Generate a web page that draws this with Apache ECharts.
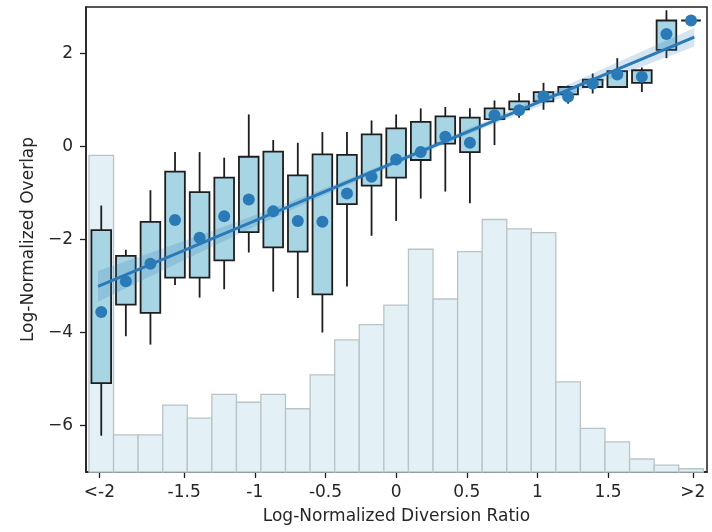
<!DOCTYPE html>
<html>
<head>
<meta charset="utf-8">
<script src="https://cdn.jsdelivr.net/npm/echarts@6/dist/echarts.min.js"></script>
<style>
  html, body { margin: 0; padding: 0; background: #fff; }
  #chart { width: 712px; height: 532px; }
</style>
</head>
<body>
<div id="chart"></div>
<script>
// bins: 23 of width 4/23 between -2 and 2, plus one overflow bin each side
const binWidth = 4 / 23;
const binCenters = [-2.087, -1.913, -1.739, -1.565, -1.391, -1.217, -1.043, -0.870, -0.696, -0.522,
  -0.348, -0.174, 0, 0.174, 0.348, 0.522, 0.696, 0.870, 1.043, 1.217, 1.391, 1.565, 1.739, 1.913, 2.087];

// histogram heights (above the bottom of the plot)
const histHeights = [6.81, 0.80, 0.80, 1.44, 1.16, 1.67, 1.50, 1.67, 1.36, 2.09, 2.84, 3.17, 3.59,
  4.79, 3.72, 4.74, 5.43, 5.23, 5.15, 1.94, 0.94, 0.65, 0.28, 0.15, 0.07];

// box plot stats per bin
const whiskerLow = [-6.22, -4.08, -4.26, -2.98, -3.25, -3.07, -2.28, -3.12, -3.26, -4.00, -3.01, -1.92, -1.60,
  -1.12, -0.97, -1.22, 0.03, 0.62, 0.79, 0.92, 1.14, 1.26, 1.17, 1.90, 2.71];
const boxLow = [-5.09, -3.40, -3.58, -2.82, -2.82, -2.45, -1.84, -2.17, -2.26, -3.18, -1.24, -0.84, -0.67,
  -0.29, 0.06, -0.12, 0.59, 0.80, 0.97, 1.12, 1.28, 1.28, 1.37, 2.08, 2.71];
const boxHigh = [-1.80, -2.35, -1.62, -0.54, -0.98, -0.67, -0.22, -0.11, -0.62, -0.17, -0.18, 0.26, 0.39,
  0.53, 0.65, 0.62, 0.82, 0.97, 1.17, 1.28, 1.44, 1.62, 1.64, 2.71, 2.71];
const whiskerHigh = [-1.27, -2.22, -0.94, -0.12, -0.12, -0.24, 0.69, 0.14, 0.08, 0.31, 0.31, 0.56, 0.69,
  0.82, 0.85, 0.82, 0.99, 1.15, 1.37, 1.31, 1.57, 1.90, 1.70, 2.93, 2.71];
const binMeans = [-3.56, -2.90, -2.52, -1.58, -1.96, -1.50, -1.14, -1.39, -1.60, -1.62, -1.01, -0.65, -0.28,
  -0.12, 0.21, 0.08, 0.67, 0.78, 1.08, 1.07, 1.35, 1.55, 1.50, 2.42, 2.71];

// regression line and its confidence band
const fitX = [-2.11, 2.11];
const fitY = [-3.01, 2.35];
const bandX = [-2.11, -1.5, -1, -0.5, 0, 0.5, 1, 1.5, 2.11];
const bandLo = [-3.34, -2.44, -1.72, -1.04, -0.38, 0.25, 0.85, 1.44, 2.15];
const bandHi = [-2.68, -2.03, -1.48, -0.89, -0.28, 0.37, 1.03, 1.72, 2.55];

// ticks
const xTicks = [-2.1, -1.5, -1, -0.5, 0, 0.5, 1, 1.5, 2.1];
const yTicks = [-6, -4, -2, 0, 2];

const blue = '#2a7ab8';
const ink = '#1e1e1e';
const font = 'DejaVu Sans';

const chart = echarts.init(document.getElementById('chart'));

chart.setOption({
  animation: false,
  backgroundColor: '#fff',
  grid: {
    left: 86, top: 7, width: 621, height: 465,
    show: true, borderColor: ink, borderWidth: 1.5, backgroundColor: 'transparent'
  },
  xAxis: {
    type: 'value',
    min: -2.195, max: 2.2,
    name: 'Log-Normalized Diversion Ratio',
    nameLocation: 'middle',
    nameGap: 36,
    nameTextStyle: { fontFamily: font, fontSize: 17, color: '#262626' },
    axisLine: { show: true, onZero: false, lineStyle: { color: ink, width: 1.5 } },
    splitLine: { show: false },
    axisTick: { show: true, customValues: xTicks, length: 6, lineStyle: { color: ink, width: 1.3 } },
    axisLabel: {
      customValues: xTicks,
      margin: 12,
      fontFamily: font, fontSize: 17, color: '#262626',
      formatter: v => v < -2 ? '<-2' : v > 2 ? '>2' : String(v)
    }
  },
  yAxis: [{
    type: 'value',
    min: -7, max: 3,
    name: 'Log-Normalized Overlap',
    nameLocation: 'middle',
    nameGap: 48,
    nameTextStyle: { fontFamily: font, fontSize: 17, color: '#262626' },
    axisLine: { show: true, onZero: false, lineStyle: { color: ink, width: 1.5 } },
    splitLine: { show: false },
    axisTick: { show: true, customValues: yTicks, length: 6, lineStyle: { color: ink, width: 1.3 } },
    axisLabel: {
      customValues: yTicks,
      margin: 13,
      fontFamily: font, fontSize: 17, color: '#262626',
      formatter: v => String(v).replace('-', '\u2212')
    }
  }, {
    type: 'value',
    min: 0, max: 10,
    show: false
  }],
  series: [
    {
      type: 'custom',
      name: 'histogram',
      yAxisIndex: 1,
      z: 1,
      data: binCenters.map((x, i) => [x, histHeights[i]]),
      encode: { x: 0, y: 1 },
      renderItem(params, api) {
        const x = api.value(0);
        const left = api.coord([x - binWidth / 2, api.value(1)]);
        const right = api.coord([x + binWidth / 2, 0]);
        return {
          type: 'rect',
          shape: { x: left[0], y: left[1], width: right[0] - left[0], height: right[1] - left[1] },
          style: { fill: '#e3f0f5', stroke: '#b9c4c8', lineWidth: 1.3 }
        };
      }
    },
    {
      type: 'custom',
      name: 'boxes',
      z: 2,
      data: binCenters.map((x, i) => [x, whiskerLow[i], boxLow[i], boxHigh[i], whiskerHigh[i]]),
      encode: { x: 0, y: [1, 2, 3, 4] },
      renderItem(params, api) {
        const x = api.value(0);
        const lo = api.coord([x, api.value(1)]);
        const q1 = api.coord([x, api.value(2)]);
        const q3 = api.coord([x, api.value(3)]);
        const hi = api.coord([x, api.value(4)]);
        const half = api.size([binWidth * 0.8, 0])[0] / 2;
        const edge = { stroke: ink, lineWidth: 1.8 };
        return {
          type: 'group',
          children: [
            { type: 'line', shape: { x1: lo[0], y1: lo[1], x2: q1[0], y2: q1[1] }, style: edge },
            { type: 'line', shape: { x1: q3[0], y1: q3[1], x2: hi[0], y2: hi[1] }, style: edge },
            {
              type: 'rect',
              shape: { x: q3[0] - half, y: q3[1], width: half * 2, height: q1[1] - q3[1] },
              style: { fill: '#a8d5e4', stroke: ink, lineWidth: 1.8 }
            }
          ]
        };
      }
    },
    {
      type: 'custom',
      name: 'band',
      z: 3,
      data: bandX.map((x, i) => [x, bandLo[i], bandHi[i]]),
      encode: { x: 0, y: [1, 2] },
      renderItem(params, api) {
        if (params.dataIndex !== 0) return null;
        const upper = bandX.map((x, i) => api.coord([x, bandHi[i]]));
        const lower = bandX.map((x, i) => api.coord([x, bandLo[i]])).reverse();
        return {
          type: 'polygon',
          shape: { points: upper.concat(lower) },
          style: { fill: 'rgba(42,122,184,0.2)' }
        };
      }
    },
    {
      type: 'line',
      name: 'fit',
      z: 4,
      symbol: 'none',
      data: fitX.map((x, i) => [x, fitY[i]]),
      lineStyle: { color: blue, width: 3 }
    },
    {
      type: 'scatter',
      name: 'means',
      z: 5,
      symbolSize: 12,
      data: binCenters.map((x, i) => [x, binMeans[i]]),
      itemStyle: { color: blue, opacity: 1 }
    }
  ]
});
</script>
</body>
</html>
